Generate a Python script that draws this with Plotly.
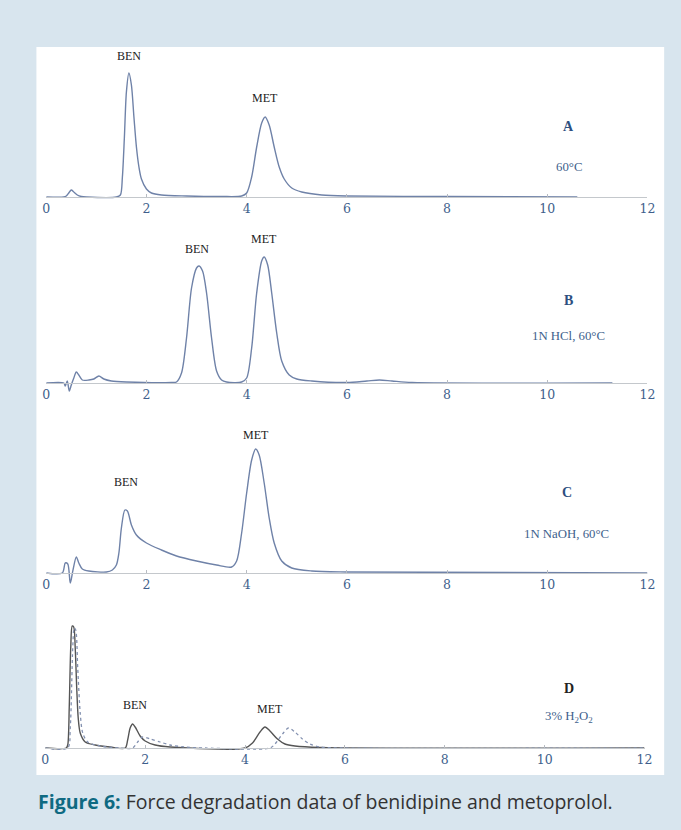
import plotly.graph_objects as go

W, H = 681, 830

# ---- Chromatogram data: retention time (min) and detector response (relative units) ----
# A: thermal stress, 60 °C
time_a = [0, 0.35, 0.4, 0.45, 0.5, 0.55, 0.62, 0.7, 0.8, 1.4, 1.48, 1.52, 1.56, 1.6, 1.65, 1.7,
          1.75, 1.8, 1.85, 1.9, 2.0, 2.1, 2.3, 2.8, 3.5, 3.9, 4.0, 4.1, 4.2, 4.3, 4.37, 4.45,
          4.55, 4.65, 4.75, 4.9, 5.1, 5.5, 6.0, 8.0, 10.6]
resp_a = [0, 0, 1, 4, 7, 5, 2, 0.5, 0, 0, 2, 20, 60, 105, 124, 112,
          80, 50, 30, 18, 8, 4, 2, 1, 0.5, 1, 4, 20, 50, 74, 80, 72,
          50, 30, 18, 9, 5, 2, 1, 0.5, 0]

# B: acid stress, 1N HCl 60 °C
time_b = [0, 0.35, 0.38, 0.42, 0.46, 0.5, 0.55, 0.6, 0.65, 0.72, 0.85, 0.95, 1.05, 1.15, 1.3, 1.6,
          2.5, 2.6, 2.7, 2.8, 2.9, 3.0, 3.05, 3.12, 3.2, 3.3, 3.4, 3.5, 3.6, 3.9, 4.0, 4.1, 4.2,
          4.3, 4.35, 4.42, 4.5, 4.6, 4.7, 4.85, 5.0, 5.3, 6.0, 6.4, 6.65, 6.9, 7.3, 11.3]
resp_b = [0, 0, -3, 2, -8, -2, 5, 11, 8, 3, 3, 4, 7, 4, 2, 1,
          0.5, 1, 10, 45, 95, 115, 117, 112, 90, 45, 12, 3, 1, 1, 5, 35, 90,
          122, 126, 118, 90, 50, 22, 8, 4, 2, 0.5, 2, 3, 2, 0.5, 0]

# C: base stress, 1N NaOH 60 °C
time_c = [0, 0.32, 0.38, 0.43, 0.48, 0.53, 0.6, 0.65, 0.72, 0.85, 1.2, 1.32, 1.4, 1.45, 1.5,
          1.57, 1.62, 1.7, 1.8, 2.0, 2.3, 2.6, 3.0, 3.4, 3.7, 3.8, 3.9, 4.0, 4.1, 4.18, 4.25,
          4.35, 4.45, 4.55, 4.7, 4.9, 5.3, 6.0, 12.0]
resp_c = [0, 0, 10, 9, -10, 2, 16, 10, 4, 2, 1, 3, 8, 20, 45,
          63, 62, 48, 38, 30, 23, 17, 12, 8, 6, 12, 40, 80, 113, 124, 118,
          90, 55, 30, 12, 5, 2, 1, 0]

# D: oxidative stress, 3% H2O2 (sample solid, blank dotted)
time_d = [0, 0.42, 0.45, 0.48, 0.51, 0.54, 0.57, 0.6, 0.63, 0.66, 0.7, 0.8, 1.0, 1.3, 1.6,
          1.65, 1.7, 1.75, 1.8, 1.9, 2.0, 2.2, 2.5, 4.0, 4.15, 4.3, 4.4, 4.5, 4.65, 4.8, 5.0,
          5.5, 12.0]
resp_d = [0, 0, 3, 40, 100, 122, 121, 100, 60, 30, 15, 6, 3, 1, 0,
          8, 20, 24, 21, 12, 7, 3, 1, 0, 5, 16, 21, 17, 9, 4, 2,
          0.5, 0]
time_d2 = [0, 0.45, 0.5, 0.55, 0.58, 0.61, 0.65, 0.7, 0.75, 0.85, 1.1, 1.5, 1.75, 1.85, 1.95,
           2.1, 2.3, 2.5, 2.8, 3.2, 4.5, 4.6, 4.75, 4.87, 5.0, 5.15, 5.3, 5.5, 6.0, 12.0]
resp_d2 = [0, 0, 20, 100, 120, 118, 80, 35, 15, 6, 2, 0, 0, 6, 11,
           9, 6, 3, 1, 0, 0, 4, 14, 20, 16, 9, 4, 1, 0, 0]

# Peak labels: (text, retention time, response at label)
labels_a = [("BEN", 1.65, 141), ("MET", 4.37, 99)]
labels_b = [("BEN", 3.0, 134), ("MET", 4.35, 144)]
labels_c = [("BEN", 1.6, 91), ("MET", 4.18, 138)]
labels_d = [("BEN", 1.8, 43), ("MET", 4.5, 39)]

panel_letters = ["A", "B", "C", "D"]
conditions = ["60°C", "1N HCl, 60°C", "1N NaOH, 60°C", "3% H<sub>2</sub>O<sub>2</sub>"]

tick_vals = [0, 2, 4, 6, 8, 10, 12]
tick_text = ["0", "2", "4", "6", "8", "10", "12"]

# ---- Layout geometry (pixels) ----
BG = "#d8e5ee"
LINE_BLUE = "#6f82a8"
TICK_BLUE = "#3e5f8c"
SERIF = "Liberation Serif, DejaVu Serif, serif"
baselines = [197, 383, 573, 748]          # pixel row of each time axis
x_left, x_right = [43, 43, 43, 42], [655, 655, 655, 652]
y_min, y_max = -15, 160                   # response range drawn in each panel (1 unit = 1 px)
letter_rows = [127, 300, 492, 688]        # pixel rows of panel letters
condition_rows = [167, 336, 534, 717]     # pixel rows of condition captions
side_x = [575, 575, 573, 575]             # pixel columns of the panel letters / conditions

panels = [
    (time_a, resp_a, labels_a),
    (time_b, resp_b, labels_b),
    (time_c, resp_c, labels_c),
    (time_d, resp_d, labels_d),
]

fig = go.Figure()
layout = dict(
    width=W, height=H, margin=dict(l=0, r=0, t=0, b=0),
    paper_bgcolor=BG, plot_bgcolor="rgba(0,0,0,0)", showlegend=False,
    shapes=[dict(type="rect", xref="paper", yref="paper",
                 x0=33 / W, x1=672 / W, y0=1 - 775 / H, y1=1 - 47 / H,
                 fillcolor="white", line=dict(width=0), layer="below")],
    annotations=[],
)

for i, (t, r, labels) in enumerate(panels):
    n = "" if i == 0 else str(i + 1)
    b = baselines[i]
    top_px, bot_px = b - y_max, b - y_min
    layout["xaxis" + n] = dict(
        range=[0, 12], domain=[x_left[i] / W, x_right[i] / W],
        anchor="free", position=1 - b / H,
        showline=True, linecolor="#c4c8cc", linewidth=1,
        ticks="inside", ticklen=3, tickcolor="#b8bcc2",
        tickvals=tick_vals, ticktext=tick_text, showgrid=False, zeroline=False,
        tickfont=dict(family="DejaVu Serif, serif", size=12.5, color=TICK_BLUE),
    )
    layout["yaxis" + n] = dict(
        range=[y_min, y_max], domain=[1 - bot_px / H, 1 - top_px / H],
        visible=False, anchor="x" + n,
    )
    color = "#555555" if i == 3 else LINE_BLUE
    fig.add_trace(go.Scatter(
        x=t, y=r, mode="lines", xaxis="x" + n, yaxis="y" + n,
        line=dict(color=color, width=1.4, shape="spline", smoothing=0.8),
        cliponaxis=False, hoverinfo="skip",
    ))
    if i == 3:
        fig.add_trace(go.Scatter(
            x=time_d2, y=resp_d2, mode="lines", xaxis="x4", yaxis="y4",
            line=dict(color="#8391b0", width=1.3, dash="dot", shape="spline", smoothing=0.8),
            cliponaxis=False, hoverinfo="skip",
        ))
    for text, xt, yt in labels:
        layout["annotations"].append(dict(
            text=text, x=xt, y=yt, xref="x" + n, yref="y" + n, showarrow=False,
            xanchor="center", yanchor="middle",
            font=dict(family=SERIF, size=12, color="#222222"),
        ))
    letter_color = "#222222" if i == 3 else "#2d4f80"
    layout["annotations"].append(dict(
        text="<b>" + panel_letters[i] + "</b>", x=side_x[i] / W, y=1 - letter_rows[i] / H,
        xref="paper", yref="paper", xanchor="center", yanchor="middle", showarrow=False,
        font=dict(family=SERIF, size=14, color=letter_color),
    ))
    layout["annotations"].append(dict(
        text=conditions[i], x=side_x[i] / W, y=1 - condition_rows[i] / H,
        xref="paper", yref="paper", xanchor="center", yanchor="middle", showarrow=False,
        font=dict(family=SERIF, size=12.8, color=TICK_BLUE),
    ))

layout["annotations"].append(dict(
    text=("<span style='color:#0f6a82'><b>Figure 6:</b></span>"
          " Force degradation data of benidipine and metoprolol."),
    x=33 / W, y=1 - 801 / H, xref="paper", yref="paper", xanchor="left", yanchor="middle",
    showarrow=False,
    font=dict(family="Open Sans, Noto Sans, sans-serif", size=19.5, color="#333333"),
))

fig.update_layout(**layout)
fig.write_html("out.html")
